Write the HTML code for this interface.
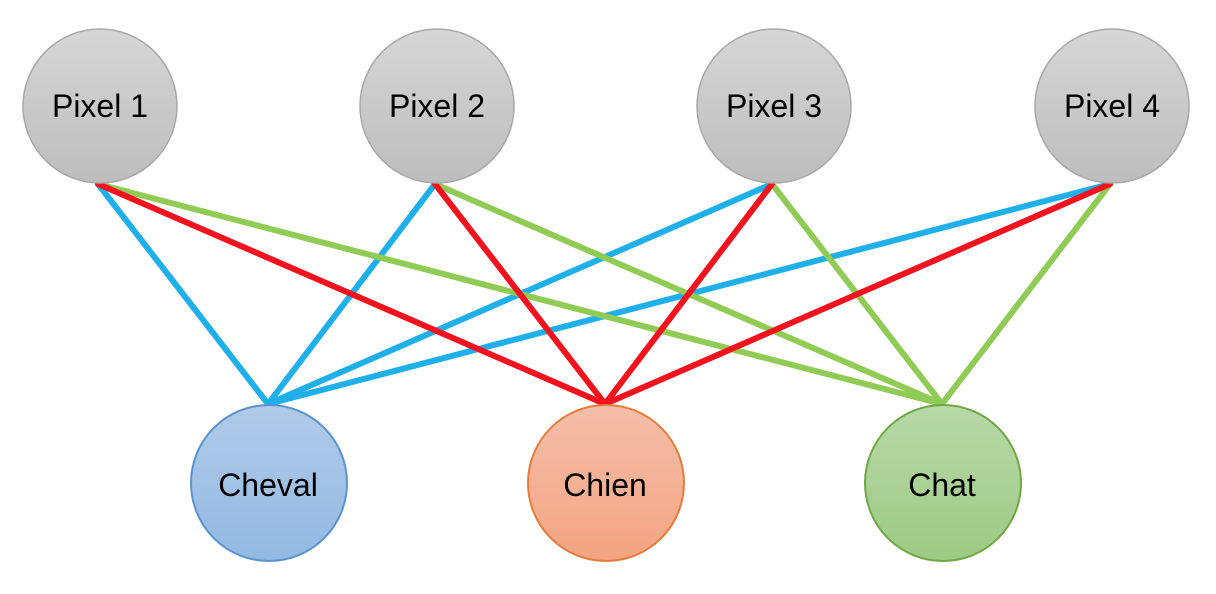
<!DOCTYPE html>
<html><head><style>html,body{margin:0;padding:0;background:#fff}</style></head>
<body>
<svg width="1216" height="594" xmlns="http://www.w3.org/2000/svg" style="display:block">
<defs>
<linearGradient id="g" x1="0" y1="0" x2="0" y2="1"><stop offset="0" stop-color="#d6d6d6"/><stop offset="1" stop-color="#bdbdbd"/></linearGradient>
<linearGradient id="b" x1="0" y1="0" x2="0" y2="1"><stop offset="0" stop-color="#b1cbe9"/><stop offset="1" stop-color="#93b8e2"/></linearGradient>
<linearGradient id="o" x1="0" y1="0" x2="0" y2="1"><stop offset="0" stop-color="#f5beaa"/><stop offset="1" stop-color="#f3a482"/></linearGradient>
<linearGradient id="gr" x1="0" y1="0" x2="0" y2="1"><stop offset="0" stop-color="#b8d8a8"/><stop offset="1" stop-color="#9dca84"/></linearGradient>
</defs>
<g stroke-width="6" stroke-linecap="round">
<g stroke="#1fb0ec">
<line x1="98" y1="184" x2="268" y2="404"/><line x1="435" y1="184" x2="268" y2="404"/><line x1="772" y1="184" x2="268" y2="404"/><line x1="1110" y1="184" x2="268" y2="404"/>
</g>
<g stroke="#8fcb55">
<line x1="98" y1="184" x2="942" y2="404"/><line x1="435" y1="184" x2="942" y2="404"/><line x1="772" y1="184" x2="942" y2="404"/><line x1="1110" y1="184" x2="942" y2="404"/>
</g>
<g stroke="#f4121f">
<line x1="98" y1="184" x2="605" y2="404"/><line x1="435" y1="184" x2="605" y2="404"/><line x1="772" y1="184" x2="605" y2="404"/><line x1="1110" y1="184" x2="605" y2="404"/>
</g>
</g>
<g stroke="#a8a8a8" stroke-width="1.5" fill="url(#g)">
<circle cx="100" cy="106" r="77"/><circle cx="437" cy="106" r="77"/><circle cx="774" cy="106" r="77"/><circle cx="1112" cy="106" r="77"/>
</g>
<circle cx="269" cy="483" r="78" fill="url(#b)" stroke="#5b93cf" stroke-width="2"/>
<circle cx="606" cy="483" r="78" fill="url(#o)" stroke="#e77b3a" stroke-width="2"/>
<circle cx="943" cy="483" r="78" fill="url(#gr)" stroke="#6ea845" stroke-width="2"/>
<g font-family="Liberation Sans, sans-serif" font-size="32" text-anchor="middle" fill="#000">
<text x="100" y="117">Pixel 1</text><text x="437" y="117">Pixel 2</text><text x="774" y="117">Pixel 3</text><text x="1112" y="117">Pixel 4</text>
<text x="268" y="496">Cheval</text><text x="605" y="496">Chien</text><text x="942" y="496">Chat</text>
</g>
</svg>
</body></html>
